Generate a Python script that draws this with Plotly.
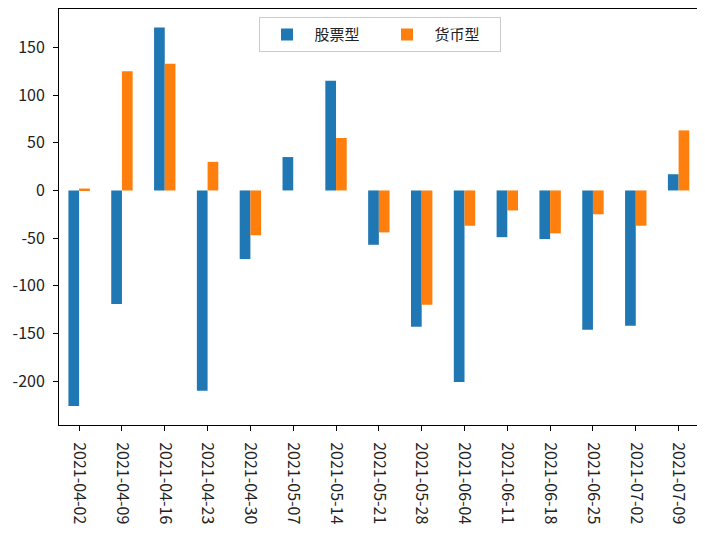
import plotly.graph_objects as go

dates = ["2021-04-02", "2021-04-09", "2021-04-16", "2021-04-23", "2021-04-30",
         "2021-05-07", "2021-05-14", "2021-05-21", "2021-05-28", "2021-06-04",
         "2021-06-11", "2021-06-18", "2021-06-25", "2021-07-02", "2021-07-09"]
stock = [-226, -119, 171, -210, -72, 35, 115, -57, -143, -201, -49, -51, -146, -142, 17]
money = [2, 125, 133, 30, -47, 0, 55, -44, -120, -37, -21, -45, -25, -37, 63]
ytick_vals = [150, 100, 50, 0, -50, -100, -150, -200]
ytick_text = ["150", "100", "50", "0", "-50", "-100", "-150", "-200"]

FONT = "Noto Sans CJK SC"

fig = go.Figure()
fig.add_trace(go.Bar(x=dates, y=stock, name="股票型", marker=dict(color="#1f77b4", line=dict(width=0))))
fig.add_trace(go.Bar(x=dates, y=money, name="货币型", marker=dict(color="#ff7f0e", line=dict(width=0))))

# page body has an 8px default margin, so the figure is offset by 8px
fig.update_layout(
    width=697, height=538,
    margin=dict(l=51, r=5, t=1, b=121),
    paper_bgcolor="white", plot_bgcolor="white",
    barmode="group", bargap=0.5, bargroupgap=0,
    font=dict(family=FONT, size=16, color="#222222"),
    showlegend=True,
    legend=dict(orientation="h", x=0.5, xanchor="center", y=0.98, yanchor="top",
                bordercolor="#cccccc", borderwidth=1, bgcolor="white",
                font=dict(family=FONT, size=15), itemwidth=45,
                entrywidth=60, entrywidthmode="pixels"),
)
fig.update_xaxes(type="category", range=[-0.47, 14.5], tickangle=90, automargin=False,
                 showline=True, linecolor="black", linewidth=1, mirror=True,
                 ticks="outside", ticklen=5, tickcolor="black", showgrid=False,
                 ticklabelstandoff=8, tickfont=dict(family=FONT, size=16))
fig.update_yaxes(range=[-246, 190.3], tickvals=ytick_vals, ticktext=ytick_text, automargin=False,
                 showline=True, linecolor="black", linewidth=1, mirror=True,
                 ticks="outside", ticklen=5, tickcolor="black", showgrid=False,
                 ticklabelstandoff=5, zeroline=False, tickfont=dict(family=FONT, size=16))

fig.write_html("out.html")
